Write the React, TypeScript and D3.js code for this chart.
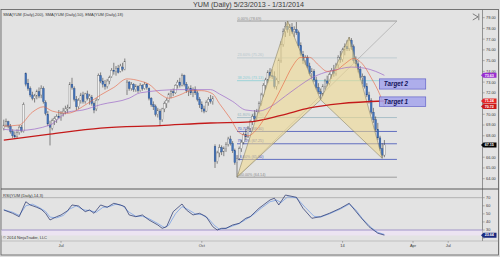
import React from 'react';
import * as d3 from 'd3';

const title = 'YUM (Daily)  5/23/2013 - 1/31/2014';
const maLegend = 'SMA(YUM (Daily),200), SMA(YUM (Daily),50), EMA(YUM (Daily),18)';
const rsiLegend = 'RSI(YUM (Daily),14,3)';
const copyright = '\u00A9 2014 NinjaTrader, LLC';

// daily bars [open, high, low, close], 5/23/2013 .. 1/31/2014
const ohlc: number[][] = [
  [68.7,69.5,68.5,69.0],[69.0,69.6,68.8,69.3],[69.3,69.4,68.7,68.9],[68.9,69.1,68.2,68.4],[68.4,68.6,67.8,68.0],
  [68.0,68.4,67.7,67.9],[67.9,68.6,67.8,68.3],[68.3,69.0,68.1,68.8],[68.8,69.0,68.3,68.5],[68.4,71.1,68.3,70.9],
  [73.8,73.9,72.6,72.8],[72.9,73.3,72.2,72.4],[72.4,72.6,71.6,71.8],[71.8,72.1,71.3,71.5],[71.5,71.9,71.1,71.7],
  [71.7,72.3,71.4,72.1],[72.1,72.5,71.5,71.7],[71.8,72.7,71.5,72.4],[72.4,72.6,71.0,71.2],[71.1,71.3,69.9,70.1],
  [70.0,70.3,68.9,69.1],[69.0,69.4,67.1,68.8],[68.7,69.6,68.5,69.4],[69.4,69.8,69.0,69.6],[69.5,70.0,69.2,69.8],
  [69.8,70.4,69.6,69.7],[69.7,70.3,69.4,70.1],[70.1,70.6,69.8,70.3],[70.3,70.8,70.0,70.5],[70.5,70.9,70.1,70.6],
  [70.6,73.0,70.5,72.8],[72.8,73.4,72.3,72.5],[72.4,72.6,71.2,71.4],[71.4,71.7,70.4,70.7],[70.7,71.5,70.5,71.3],
  [71.3,72.0,71.0,71.8],[71.8,72.1,71.0,71.2],[71.2,72.0,71.0,71.9],[71.9,72.2,71.3,71.5],[71.5,71.9,70.9,71.7],
  [71.6,71.8,70.8,71.0],[71.0,71.2,70.1,70.4],[70.5,71.5,70.3,71.3],[71.4,73.8,71.3,73.6],[73.6,73.9,72.9,73.1],
  [73.1,73.4,72.5,72.8],[72.8,73.2,72.3,72.6],[72.6,73.3,72.4,73.1],[73.1,73.6,72.8,73.4],[73.5,74.3,73.4,74.1],
  [74.1,74.8,73.7,74.0],[74.0,74.5,73.6,74.3],[74.3,74.6,73.8,73.9],[74.0,74.7,73.9,74.5],[74.4,74.8,74.0,74.2],
  [74.2,75.2,74.1,74.9],[72.2,73.2,71.8,73.0],[73.0,73.1,72.2,72.4],[72.4,73.0,72.2,72.8],[72.8,72.9,72.1,72.3],
  [72.3,72.8,72.1,72.6],[72.6,72.7,72.0,72.2],[72.2,72.9,72.1,72.7],[72.7,72.8,72.2,72.4],[72.4,73.0,72.3,72.8],
  [72.8,72.9,72.3,72.5],[72.4,72.5,71.3,71.5],[71.5,71.6,70.7,70.9],[70.9,71.2,70.4,70.7],[70.7,70.9,69.8,70.0],
  [70.0,70.6,69.7,70.4],[70.3,70.5,69.0,69.5],[69.5,70.6,69.3,70.5],[70.5,71.2,70.2,71.0],[71.0,71.5,70.6,71.3],
  [71.3,72.0,71.1,71.9],[71.9,72.3,71.5,72.1],[72.1,72.4,71.7,72.0],[72.0,72.8,71.9,72.7],[72.7,73.2,72.4,73.0],
  [73.0,73.4,72.5,72.7],[72.7,73.8,72.6,73.6],[73.6,73.7,72.6,72.8],[72.8,73.0,72.0,72.2],[72.2,72.6,71.7,72.4],
  [72.4,72.7,71.8,72.0],[72.0,72.5,71.6,72.3],[72.3,72.6,71.8,72.0],[72.0,72.2,71.2,71.4],[71.4,71.6,70.6,70.9],
  [70.9,71.2,70.2,70.5],[70.5,70.8,70.1,70.3],[70.3,71.3,70.2,71.1],[71.1,71.6,70.8,71.4],[71.4,71.8,71.0,71.2],
  [71.2,71.7,70.9,71.5],[67.0,67.2,65.0,65.6],[65.6,66.6,65.4,66.4],[66.4,67.2,66.0,66.9],[66.9,67.1,66.2,66.5],
  [66.5,67.0,66.1,66.8],[66.8,67.4,66.5,67.2],[67.2,67.9,67.0,67.7],[67.7,68.0,67.1,67.3],[67.3,67.5,66.4,66.6],
  [66.6,66.8,65.3,65.5],[65.5,66.2,64.14,65.9],[65.9,67.0,65.7,66.8],[66.8,67.6,66.5,67.4],[67.4,68.3,67.2,68.1],
  [68.1,68.6,67.6,67.9],[67.9,68.9,67.8,68.7],[68.7,69.5,68.4,69.3],[69.3,70.0,69.0,69.8],[69.8,70.4,69.3,69.6],
  [69.6,70.5,69.4,70.3],[70.3,71.2,70.1,71.0],[71.0,72.0,70.8,71.8],[71.8,72.9,71.6,72.7],[72.7,73.4,72.3,73.2],
  [73.2,74.1,72.9,73.9],[73.9,74.3,73.4,73.6],[73.6,74.2,73.3,73.5],[73.5,74.0,72.4,72.6],[72.6,73.4,72.3,73.2],
  [73.0,75.2,72.8,75.0],[75.0,76.8,74.8,76.5],[76.5,78.0,76.3,77.7],[77.7,78.6,77.2,78.2],[78.2,78.69,77.6,77.9],
  [77.9,78.4,77.3,78.1],[78.1,78.5,77.5,77.7],[77.7,78.2,77.2,77.9],[77.9,78.6,77.4,77.6],[77.6,77.8,76.2,76.4],
  [76.4,76.7,75.4,75.6],[75.6,75.9,74.7,75.0],[75.0,75.5,74.6,75.3],[75.3,75.5,74.3,74.5],[74.5,74.8,73.6,73.8],
  [73.8,74.3,73.4,74.0],[74.0,74.2,73.0,73.2],[73.2,73.5,72.3,72.5],[72.5,72.9,71.9,72.1],[72.1,72.4,71.35,71.9],
  [71.9,72.8,71.7,72.6],[72.6,73.3,72.3,73.1],[73.1,73.6,72.6,72.9],[72.9,73.9,72.7,73.7],[73.7,74.3,73.3,74.1],
  [74.1,74.6,73.5,73.8],[73.8,74.8,73.6,74.6],[74.6,75.5,74.3,75.3],[75.3,75.9,74.8,75.1],[75.1,76.2,74.9,76.0],
  [76.0,76.6,75.5,76.3],[76.3,76.9,75.9,76.1],[76.1,77.2,75.9,76.9],[76.9,77.1,76.0,76.3],[76.3,76.5,74.8,75.0],
  [75.0,75.4,74.4,74.7],[74.7,75.0,73.9,74.2],[74.2,74.5,73.2,73.4],[73.4,73.8,72.8,73.5],[73.5,73.6,72.4,72.6],
  [72.6,72.9,71.6,71.8],[71.8,72.1,71.0,71.3],[71.3,71.5,70.0,70.2],[70.2,70.6,69.2,69.5],[69.5,69.8,68.4,68.6],
  [68.6,69.2,67.6,67.8],[67.8,68.0,66.6,66.8],[66.8,67.3,65.9,66.2],[66.2,67.6,66.0,67.15],
];

// moving averages: [bar index, value]
const sma200: number[][] = [[0,67.6],[21,68.16],[44,68.72],[71,68.95],[94,69.19],[112,69.3],[126,69.9],[139,70.6],[153,71.0],[173,71.24]];
const sma50: number[][] = [[0,68.6],[7,68.5],[21,69.0],[29,70.2],[36,70.4],[44,70.9],[57,71.5],[62,72.0],[80,72.3],[94,72.3],[98,71.9],[104,71.2],[110,70.4],[116,70.3],[122,70.8],[128,71.7],[134,72.6],[140,73.4],[146,73.9],[152,74.2],[158,74.4],[164,74.3],[169,74.0],[173,73.63]];
const ema18: number[][] = [[0,68.9],[7,69.0],[13,70.2],[18,70.7],[22,70.3],[29,70.1],[38,71.0],[44,71.8],[50,72.5],[56,73.3],[62,73.1],[66,72.8],[71,71.9],[75,71.5],[80,71.8],[85,72.2],[90,72.2],[95,71.9],[98,71.0],[103,69.6],[107,68.3],[111,68.0],[115,68.6],[119,69.8],[123,71.2],[127,72.8],[131,74.4],[135,75.3],[139,75.3],[143,74.6],[147,74.0],[151,74.1],[155,74.7],[159,75.2],[163,74.7],[167,73.4],[171,71.8],[173,70.72]];

const rsi: number[][] = [[0,54.8],[4,50.7],[7,46.5],[10,65],[12,61],[15,58.1],[17,55.6],[19,50.7],[21,42.4],[24,46.5],[26,48.6],[29,53.9],[31,61],[34,59.7],[37,52.7],[39,54.8],[41,50.7],[44,61],[47,58.1],[50,63.1],[53,61],[55,58.9],[57,48.6],[60,46.5],[63,48.6],[66,42.4],[70,36.2],[72,32.1],[74,34.1],[77,52.7],[81,62.2],[83,54.8],[86,48.6],[89,50.7],[92,46.5],[95,34.1],[97,30],[99,32.1],[101,32.1],[104,36.2],[107,38.3],[110,44.5],[112,46.5],[116,56.9],[121,67.2],[123,69.3],[125,61],[128,73.3],[133,70.5],[136,56.9],[140,44.5],[144,46.5],[148,50.7],[153,56.9],[157,63.1],[162,46.5],[166,34.1],[170,26],[173,23.64]];
const rsiAvg: number[][] = [[0,55],[4,52],[7,48],[10,60],[13,62],[16,58],[19,53],[21,46],[24,45],[27,48],[30,56],[33,60],[36,55],[39,54],[42,52],[45,58],[48,59],[51,62],[54,60],[57,52],[60,47],[63,47],[66,44],[70,38],[73,33],[75,36],[78,50],[81,59],[84,55],[87,50],[90,49],[93,44],[96,35],[98,31],[101,32],[104,35],[107,38],[110,43],[113,48],[117,57],[121,65],[124,67],[126,64],[129,71],[133,70],[137,58],[141,47],[144,46],[148,50],[153,56],[157,62],[160,55],[163,44],[167,33],[170,27],[173,24.5]];

const priceTicks = [64,65,66,67,68,69,70,71,72,73,74,75,76,77,78,79];
const rsiTicks = [20,30,40,50,60,70];
const dateTicks = [{label:'Jul',bar:26},{label:'Oct',bar:90},{label:'14',bar:154},{label:'Apr',bar:186},{label:'Jul',bar:202}];

// Fibonacci retracement tool
const fibLow = 64.14, fibHigh = 78.69, fibStartBar = 106, fibEndBar = 178.7;
const fibLevels = [0, 23.6, 38.2, 61.8, 70.7, 78.6, 88.6, 100];
const fibColors = ['#8a8a8a','#b6c6cc','#8ccfd6','#9ab6c0','#4050b8','#4050b8','#4050b8','#8a8a8a'];

// harmonic pattern X-A-B-C-D: [bar, price]
const patX = [106,64.14], patA = [129,78.69], patB = [144,71.35], patC = [157,77.2], patD = [172,65.9];

const targets = [{label:'Target 2', top:73.3, bottom:72.35},{label:'Target 1', top:71.62, bottom:70.72}];
const targetBars = [170.7, 191.8];

const priceTags = [{v:73.63,c:'#9a2fd0'},{v:71.24,c:'#e42626'},{v:70.72,c:'#cc1a1a'},{v:67.15,c:'#050505'}];
const rsiTag = {v:23.64,c:'#1a2a80'};

const FONT = 'Liberation Sans, Arial, sans-serif';

export default function App() {
  const x = d3.scaleLinear().domain([0,173]).range([3.8,384.4]);
  const y = d3.scaleLinear().domain([64,79]).range([178.7,17.7]);
  const yr = d3.scaleLinear().domain([30,70]).range([230,197.7]);
  const pLine = d3.line<number[]>().x(d=>x(d[0])).y(d=>y(d[1])).curve(d3.curveMonotoneX);
  const rLine = d3.line<number[]>().x(d=>x(d[0])).y(d=>yr(d[1]));
  const tri = (a:number[],b:number[],c:number[]) => `M${x(a[0])},${y(a[1])}L${x(b[0])},${y(b[1])}L${x(c[0])},${y(c[1])}Z`;
  const axisX = 482.5;
  const tagPath = (cy:number) => `M${axisX-1.5},${cy}L${axisX+1},${cy-2.5}L${496.5},${cy-2.5}L${496.5},${cy+2.5}L${axisX+1},${cy+2.5}Z`;
  // tick labels hidden behind value tags (as in the reference)
  const visPrice = priceTicks.filter(v => priceTags.every(t => Math.abs(y(v)-y(t.v)) > 3.6));
  const visRsi = rsiTicks.filter(v => Math.abs(yr(v)-yr(rsiTag.v)) > 3.6);

  return (
    <div style={{position:'fixed',left:0,top:0,width:500,height:257}}>
      <svg width={500} height={257} viewBox="0 0 500 257" style={{display:'block',fontFamily:FONT}}>
        <defs>
          <clipPath id="pclip"><rect x={1.5} y={10} width={481} height={178.5}/></clipPath>
          <clipPath id="rclip"><rect x={1.5} y={189.5} width={481} height={50}/></clipPath>
        </defs>
        <rect x={0} y={0} width={500} height={257} fill="#dedede"/>
        <rect x={1} y={9.5} width={497.5} height={245.5} fill="#e3e3e3" stroke="#5a5a5a" strokeWidth={0.8}/>
        <text x={248.5} y={7.4} textAnchor="middle" fontSize={7.2} fill="#3a3a3a">{title}</text>

        {/* price panel */}
        <g clipPath="url(#pclip)">
          {fibLevels.map((p,i)=>{
            const v = fibHigh - p/100*(fibHigh-fibLow);
            return <g key={i}>
              <line x1={x(fibStartBar)} x2={x(fibEndBar)} y1={y(v)} y2={y(v)} stroke={fibColors[i]} strokeWidth={0.8}/>
              <text x={x(fibStartBar)+0.5} y={y(v)-1.4} fontSize={3.8} fill={fibColors[i]}>{`${p.toFixed(2)}% (${v.toFixed(2)})`}</text>
            </g>;
          })}
          <line x1={x(fibStartBar)} y1={y(fibLow)} x2={x(fibEndBar)} y2={y(fibHigh)} stroke="#a0a0a0" strokeWidth={0.6}/>
          {ohlc.map((d,i)=>{
            const [o,h,l,c] = d; const up = c>=o; const cx = x(i);
            const top = y(Math.max(o,c)); const bh = Math.max(0.6, y(Math.min(o,c))-top);
            return <g key={i}>
              <line x1={cx} x2={cx} y1={y(h)} y2={y(l)} stroke="#3c3c3c" strokeWidth={0.6}/>
              <rect x={cx-0.85} y={top} width={1.7} height={bh} fill={up?'#f0f0f0':'#4274bb'} stroke={up?'#6a6a6a':'#284c88'} strokeWidth={0.35}/>
            </g>;
          })}
          <path d={tri(patX,patA,patB)} fill="#f1d98a" fillOpacity={0.55} stroke="#8c8468" strokeWidth={0.6}/>
          <path d={tri(patB,patC,patD)} fill="#f1d98a" fillOpacity={0.55} stroke="#8c8468" strokeWidth={0.6}/>
          <path d={pLine(sma200) || ''} fill="none" stroke="#c41a1a" strokeWidth={1.3}/>
          <path d={pLine(sma50) || ''} fill="none" stroke="#9c68c8" strokeWidth={0.7}/>
          <path d={pLine(ema18) || ''} fill="none" stroke="#e8603c" strokeWidth={0.6}/>
          {targets.map((t,i)=>(
            <g key={i}>
              <rect x={x(targetBars[0])} y={y(t.top)} width={x(targetBars[1])-x(targetBars[0])} height={y(t.bottom)-y(t.top)} fill="#a4a4ec" fillOpacity={0.85} stroke="#5656c4" strokeWidth={0.6}/>
              <text x={x(targetBars[0])+4.5} y={(y(t.top)+y(t.bottom))/2+2.2} fontSize={6.3} fontWeight="bold" fontStyle="italic" fill="#14145a">{t.label}</text>
            </g>
          ))}
        </g>
        <text x={3} y={15.5} fontSize={3.9} fill="#333" textLength={120} lengthAdjust="spacingAndGlyphs">{maLegend}</text>

        {/* right price axis */}
        <line x1={axisX} x2={axisX} y1={9.5} y2={241} stroke="#6e6e6e" strokeWidth={0.7}/>
        {priceTicks.map(v=>(
          <line key={v} x1={axisX} x2={axisX+2.2} y1={y(v)} y2={y(v)} stroke="#6e6e6e" strokeWidth={0.5}/>
        ))}
        {visPrice.map(v=>(
          <text key={v} x={axisX+3.5} y={y(v)+1.4} fontSize={3.9} fill="#3a3a3a">{v.toFixed(2)}</text>
        ))}
        {priceTags.map((t,i)=>(
          <g key={i}>
            <path d={tagPath(y(t.v))} fill={t.c}/>
            <text x={axisX+2.2} y={y(t.v)+1.35} fontSize={3.7} fill="#fff" fontWeight="bold">{t.v.toFixed(2)}</text>
          </g>
        ))}
        <g stroke="#505050" strokeWidth={0.7} fill="none">
          <path d="M472.8,13.8L478,16.9L472.8,20"/>
          <path d="M478.8,13.6V20.2"/>
        </g>

        {/* panel divider */}
        <line x1={1} x2={498.5} y1={189} y2={189} stroke="#4a4a4a" strokeWidth={0.9}/>

        {/* RSI panel */}
        <rect x={1.5} y={yr(30)} width={axisX-1.5} height={5.5} fill="#ece4f2"/>
        <line x1={1.5} x2={axisX} y1={yr(70)} y2={yr(70)} stroke="#a4a4a4" strokeWidth={0.8}/>
        <line x1={1.5} x2={axisX} y1={yr(30)} y2={yr(30)} stroke="#9080c0" strokeWidth={0.8}/>
        <g clipPath="url(#rclip)">
          <path d={rLine(rsiAvg) || ''} fill="none" stroke="#86a8e4" strokeWidth={0.9}/>
          <path d={rLine(rsi) || ''} fill="none" stroke="#1e2c68" strokeWidth={0.7}/>
        </g>
        <text x={3} y={196.5} fontSize={3.8} fill="#333" textLength={40} lengthAdjust="spacingAndGlyphs">{rsiLegend}</text>
        <text x={3} y={238.5} fontSize={3.8} fill="#333" textLength={44} lengthAdjust="spacingAndGlyphs">{copyright}</text>
        {rsiTicks.map(v=>(
          <line key={v} x1={axisX} x2={axisX+2.2} y1={yr(v)} y2={yr(v)} stroke="#6e6e6e" strokeWidth={0.5}/>
        ))}
        {visRsi.map(v=>(
          <text key={v} x={axisX+3.5} y={yr(v)+1.4} fontSize={3.9} fill="#3a3a3a">{v}</text>
        ))}
        <path d={tagPath(yr(rsiTag.v))} fill={rsiTag.c}/>
        <text x={axisX+2.2} y={yr(rsiTag.v)+1.35} fontSize={3.7} fill="#fff" fontWeight="bold">{rsiTag.v.toFixed(2)}</text>

        {/* date axis */}
        <line x1={1} x2={498.5} y1={241} y2={241} stroke="#9a9a9a" strokeWidth={0.5}/>
        {dateTicks.map((t,i)=>(
          <g key={i}>
            <line x1={x(t.bar)} x2={x(t.bar)} y1={241} y2={242.8} stroke="#6e6e6e" strokeWidth={0.5}/>
            <text x={x(t.bar)} y={247} textAnchor="middle" fontSize={4} fill="#3a3a3a">{t.label}</text>
          </g>
        ))}
      </svg>
    </div>
  );
}
